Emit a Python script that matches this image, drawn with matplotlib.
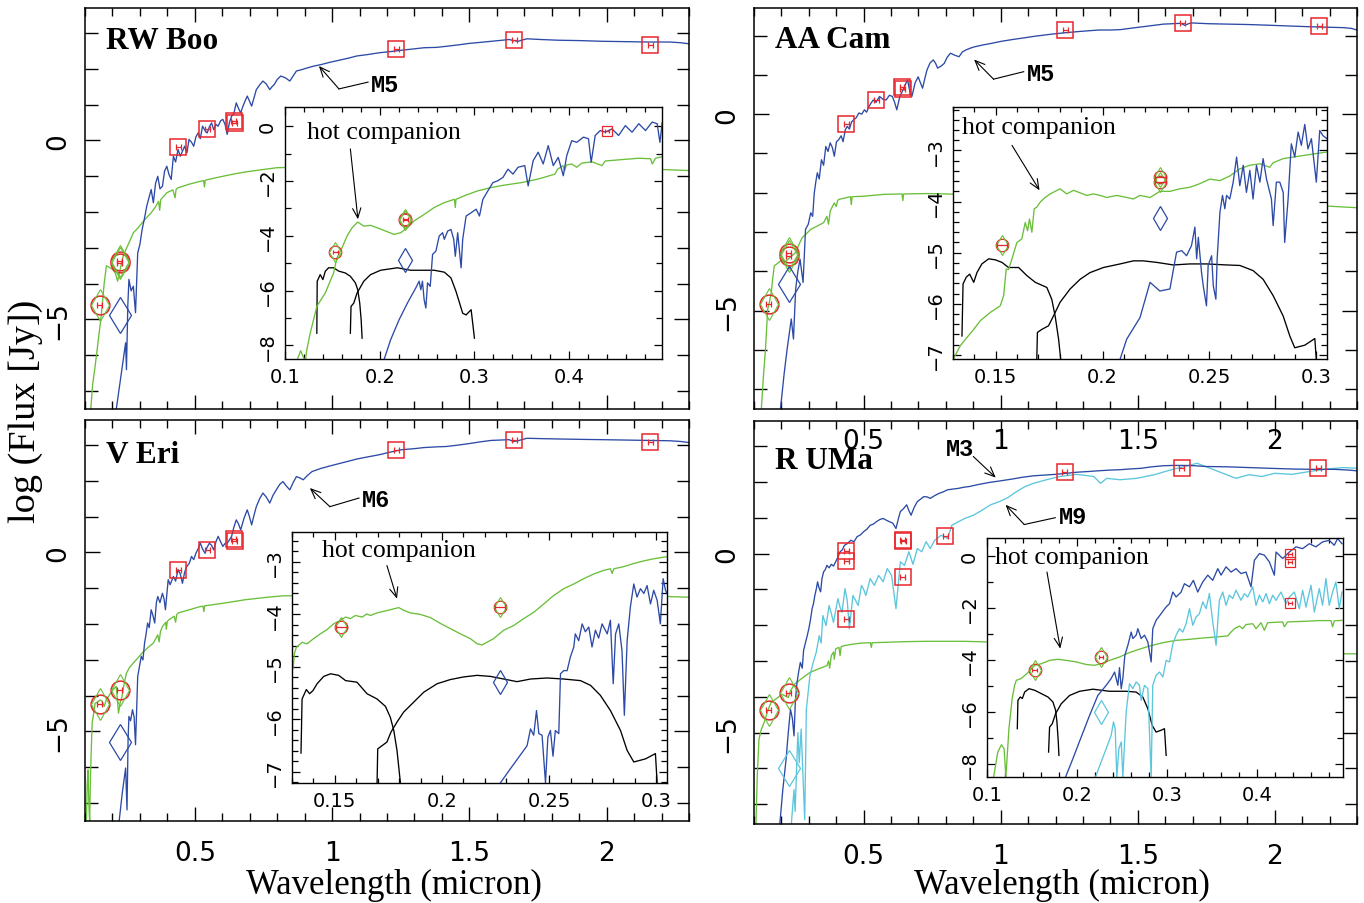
"""Four SED panels (RW Boo, AA Cam, V Eri, R UMa) with UV insets."""

import matplotlib

matplotlib.use("Agg")
import matplotlib.pyplot as plt  # noqa: E402
import numpy as np  # noqa: E402
from matplotlib.ticker import FuncFormatter, MultipleLocator  # noqa: E402

BLUE = "#2c4aa6"
GREEN = "#6abf3a"
CYAN = "#5cc6dc"
RED = "#e8262b"
SERIF = "Liberation Serif"
MONO = "Liberation Mono"

# ---------------------------------------------------------------- RW Boo
RWBOO_M5 = np.array([
    (0.214, -7.5), (0.248, -5.65), (0.251, -6.4), (0.256, -4.6), (0.26, -3.88), (0.268, -4.2),
    (0.276, -4.07), (0.284, -4.81), (0.292, -3.14), (0.300, -2.9), (0.308, -2.49), (0.316, -2.2),
    (0.325, -1.83), (0.333, -1.6), (0.341, -1.37), (0.349, -1.74), (0.357, -1.2), (0.365, -1.0),
    (0.373, -1.35), (0.382, -1.28), (0.39, -0.85), (0.398, -0.72), (0.406, -0.95), (0.414, -1.09),
    (0.422, -0.44), (0.43, -0.6), (0.439, -0.25), (0.447, -0.44), (0.455, -0.3), (0.463, -0.16),
    (0.471, -0.35), (0.479, 0.03), (0.488, -0.05), (0.496, -0.16), (0.504, 0.1), (0.512, 0.21),
    (0.52, 0.05), (0.528, 0.4), (0.537, 0.28), (0.545, 0.21), (0.553, 0.38), (0.561, 0.49),
    (0.569, 0.3), (0.577, 0.45), (0.585, 0.4), (0.594, 0.55), (0.602, 0.59), (0.61, 0.45),
    (0.618, 0.17), (0.626, 0.5), (0.634, 0.68), (0.642, 0.75), (0.651, 1.05), (0.659, 0.9),
    (0.667, 0.77), (0.675, 0.95), (0.683, 1.1), (0.691, 1.24), (0.699, 1.1), (0.707, 0.96),
    (0.716, 1.2), (0.724, 1.42), (0.736, 1.55), (0.748, 1.66), (0.76, 1.58), (0.773, 1.42),
    (0.781, 1.5), (0.789, 1.56), (0.8, 1.7), (0.813, 1.8), (0.83, 1.75), (0.846, 1.66),
    (0.858, 1.8), (0.87, 1.94), (0.89, 1.98), (0.911, 2.03), (0.935, 2.08), (0.96, 2.12),
    (0.99, 2.18), (1.025, 2.24), (1.06, 2.3), (1.09, 2.36), (1.13, 2.4), (1.172, 2.45),
    (1.21, 2.48), (1.253, 2.52), (1.3, 2.56), (1.335, 2.59), (1.38, 2.6), (1.416, 2.63),
    (1.46, 2.67), (1.498, 2.71), (1.54, 2.74), (1.58, 2.77), (1.62, 2.8), (1.645, 2.82),
    (1.66, 2.79), (1.677, 2.77), (1.69, 2.8), (1.71, 2.84), (1.76, 2.82), (1.824, 2.80),
    (1.9, 2.79), (1.986, 2.77), (2.07, 2.76), (2.149, 2.75), (2.23, 2.75), (2.27, 2.73), (2.3, 2.7),
])
RWBOO_HOT = np.array([
    (0.121, -7.5), (0.128, -6.8), (0.137, -6.3), (0.148, -5.6), (0.159, -4.9), (0.165, -4.4),
    (0.17, -3.98), (0.178, -3.5), (0.19, -3.55), (0.2, -3.6), (0.21, -3.7), (0.219, -3.93),
    (0.228, -3.6), (0.24, -3.2), (0.26, -2.86), (0.276, -2.58), (0.292, -2.45), (0.308, -2.3),
    (0.325, -2.15), (0.341, -2.02), (0.357, -1.85), (0.368, -1.7), (0.372, -1.95), (0.376, -1.65),
    (0.398, -1.46), (0.42, -1.38), (0.428, -1.6), (0.432, -1.36), (0.439, -1.32), (0.48, -1.22),
    (0.52, -1.14), (0.532, -1.12), (0.535, -1.3), (0.538, -1.11), (0.56, -1.07), (0.602, -1.0),
    (0.64, -0.94), (0.683, -0.88), (0.74, -0.82), (0.8, -0.76), (1.2, -0.7), (1.8, -0.75),
    (2.2, -0.81), (2.3, -0.84),
])
RWBOO_M5_UV = np.array([
    (0.2044, -8.54), (0.2115, -7.8), (0.2204, -7.07), (0.2292, -6.46), (0.238, -5.91),
    (0.2416, -5.66), (0.2434, -5.97), (0.2451, -5.66), (0.2469, -6.34), (0.2487, -6.64),
    (0.2505, -5.72), (0.2533, -5.85), (0.2558, -4.68), (0.2593, -4.56), (0.2628, -4.01),
    (0.2664, -3.89), (0.2682, -4.13), (0.2717, -3.83), (0.2752, -3.77), (0.2781, -4.13),
    (0.2798, -4.75), (0.2823, -3.89), (0.2859, -5.17), (0.2876, -4.13), (0.2912, -3.28),
    (0.2965, -3.16), (0.3018, -3.03), (0.3053, -3.28), (0.3089, -2.67), (0.3142, -2.36),
    (0.3195, -2.06), (0.3248, -1.99), (0.3301, -1.87), (0.3354, -1.57), (0.3407, -1.75),
    (0.346, -1.5), (0.3531, -1.44), (0.3567, -2.18), (0.362, -1.26), (0.3673, -0.95),
    (0.3726, -1.38), (0.3779, -0.71), (0.3832, -1.44), (0.3885, -1.14), (0.3938, -1.81),
    (0.3974, -1.08), (0.4027, -0.53), (0.408, -0.59), (0.4151, -0.4), (0.4204, -0.46),
    (0.4232, -1.32), (0.4275, -0.34), (0.4328, -0.16), (0.4381, -0.22), (0.4452, -0.1),
    (0.4522, -0.34), (0.4593, 0.02), (0.4664, -0.22), (0.4735, 0.09), (0.4806, -0.16),
    (0.4876, 0.15), (0.4929, 0.09), (0.4958, -0.59), (0.4983, 0.15), (0.5, 0.02),
])
RWBOO_HOT_UV = np.array([
    (0.1126, -8.55), (0.1165, -8.2), (0.1196, -8.45), (0.1215, -8.55), (0.123, -8.17),
    (0.1266, -7.56), (0.1336, -6.58), (0.1425, -6.09), (0.1513, -5.36), (0.1548, -4.81),
    (0.1602, -4.44), (0.1655, -4.01), (0.1708, -3.71), (0.1768, -3.5), (0.1832, -3.65),
    (0.1903, -3.62), (0.1974, -3.71), (0.2062, -3.83), (0.2151, -3.95), (0.2222, -3.89),
    (0.2292, -3.71), (0.2363, -3.46), (0.247, -3.22), (0.2575, -2.97), (0.2682, -2.79),
    (0.2788, -2.67), (0.2798, -2.97), (0.2805, -2.67), (0.2894, -2.54), (0.3035, -2.36),
    (0.3177, -2.24), (0.3319, -2.15), (0.3496, -2.06), (0.3673, -1.93), (0.385, -1.75),
    (0.3878, -1.57), (0.3934, -1.44), (0.3952, -1.62), (0.397, -1.42), (0.4027, -1.38),
    (0.408, -1.5), (0.4133, -1.35), (0.424, -1.3), (0.4346, -1.44), (0.4381, -1.27),
    (0.4558, -1.22), (0.4735, -1.17), (0.4859, -1.19), (0.4877, -1.38), (0.4912, -1.17),
    (0.5, -1.1),
])
RWBOO_FUV = np.array([
    (0.1336, -7.56), (0.134, -5.66), (0.1372, -5.42), (0.14, -5.6), (0.1425, -5.3),
    (0.146, -5.17), (0.1513, -5.17), (0.1566, -5.29), (0.1637, -5.36), (0.169, -5.48),
    (0.1743, -5.72), (0.1768, -5.97), (0.1789, -6.46), (0.1804, -7.07), (0.1814, -7.74),
])
RWBOO_NUV = np.array([
    (0.169, -7.56), (0.1697, -6.58), (0.1726, -6.46), (0.1761, -6.09), (0.1832, -5.66),
    (0.1903, -5.42), (0.2009, -5.26), (0.2186, -5.17), (0.2328, -5.26), (0.2434, -5.26),
    (0.2575, -5.26), (0.2682, -5.33), (0.2752, -5.54), (0.2805, -6.03), (0.2876, -6.83),
    (0.2912, -6.89), (0.2965, -6.7), (0.3, -7.74),
])
RWBOO_SQUARES = np.array([(0.44, -0.17), (0.545, 0.31), (0.642, 0.54), (0.645, 0.5),
                          (1.234, 2.56), (1.663, 2.80), (2.159, 2.68)])
RWBOO_CIRCLES = np.array([(0.153, -4.6), (0.227, -3.38), (0.227, -3.42)])
RWBOO_DIAMONDS = np.array([(0.227, -4.88)])

# ---------------------------------------------------------------- AA Cam
AACAM_M5 = np.array([
    (0.197, -7.47), (0.21, -6.6), (0.221, -5.97), (0.236, -5.21), (0.244, -5.72), (0.252, -4.45),
    (0.26, -4.0), (0.268, -3.69), (0.279, -4.28), (0.288, -2.93), (0.298, -2.8), (0.307, -2.51),
    (0.314, -2.6), (0.32, -2.0), (0.326, -1.7), (0.331, -1.49), (0.338, -1.65), (0.346, -1.16),
    (0.354, -1.3), (0.362, -0.82), (0.37, -0.95), (0.378, -0.73), (0.386, -0.85), (0.393, -1.07),
    (0.401, -0.7), (0.409, -0.65), (0.418, -0.55), (0.425, -0.7), (0.433, -0.4), (0.44, -0.31),
    (0.448, -0.38), (0.456, -0.2), (0.464, -0.14), (0.472, -0.1), (0.483, 0.03), (0.493, 0.0),
    (0.503, 0.11), (0.511, 0.05), (0.519, 0.19), (0.527, 0.28), (0.535, 0.36), (0.545, 0.3),
    (0.558, 0.45), (0.57, 0.38), (0.582, 0.36), (0.594, 0.48), (0.605, 0.45), (0.613, 0.3),
    (0.621, 0.11), (0.632, 0.45), (0.644, 0.62), (0.652, 0.75), (0.66, 0.87), (0.668, 0.6),
    (0.676, 0.45), (0.688, 0.8), (0.699, 0.95), (0.707, 0.8), (0.715, 0.66), (0.723, 0.9),
    (0.731, 1.12), (0.742, 1.3), (0.754, 1.38), (0.762, 1.3), (0.77, 1.17), (0.782, 1.22),
    (0.794, 1.29), (0.805, 1.45), (0.817, 1.55), (0.832, 1.5), (0.848, 1.46), (0.86, 1.58),
    (0.872, 1.63), (0.89, 1.68), (0.903, 1.71), (0.935, 1.76), (0.966, 1.8), (1.0, 1.85),
    (1.045, 1.9), (1.085, 1.94), (1.123, 1.98), (1.18, 2.03), (1.233, 2.07), (1.3, 2.11),
    (1.358, 2.14), (1.4, 2.14), (1.437, 2.15), (1.48, 2.19), (1.515, 2.22), (1.56, 2.26),
    (1.594, 2.29), (1.656, 2.31), (1.672, 2.26), (1.685, 2.3), (1.696, 2.32), (1.76, 2.3),
    (1.829, 2.29), (1.9, 2.28), (1.986, 2.26), (2.06, 2.24), (2.143, 2.22), (2.2, 2.21),
    (2.253, 2.2), (2.28, 2.18), (2.3, 2.14),
])
AACAM_HOT = np.array([
    (0.127, -7.47), (0.135, -6.6), (0.142, -5.97), (0.15, -4.96), (0.157, -4.75), (0.163, -4.54),
    (0.168, -4.2), (0.174, -3.86), (0.185, -3.8), (0.197, -3.73), (0.21, -3.78), (0.222, -3.7),
    (0.237, -3.61), (0.252, -3.52), (0.265, -3.3), (0.276, -3.14), (0.29, -3.05), (0.307, -2.93),
    (0.33, -2.85), (0.354, -2.76), (0.366, -2.6), (0.372, -2.8), (0.378, -2.47), (0.386, -2.35),
    (0.393, -2.26), (0.4, -2.35), (0.405, -2.2), (0.409, -2.17), (0.433, -2.13), (0.452, -2.1),
    (0.455, -2.3), (0.458, -2.1), (0.495, -2.09), (0.574, -2.04), (0.64, -2.03), (0.643, -2.2),
    (0.646, -2.03), (0.731, -2.02), (0.801, -2.03), (1.5, -2.2), (2.195, -2.34), (2.3, -2.38),
])
AACAM_M5_UV = np.array([
    (0.2082, -7.08), (0.2113, -6.69), (0.2175, -6.27), (0.2222, -5.58), (0.2268, -5.75),
    (0.2315, -5.71), (0.2346, -4.99), (0.237, -4.96), (0.2393, -5.06), (0.2416, -4.86),
    (0.2432, -4.5), (0.244, -5.12), (0.2448, -4.7), (0.2463, -5.39), (0.2471, -5.65),
    (0.2486, -6.04), (0.2494, -5.25), (0.251, -5.06), (0.2518, -5.65), (0.253, -5.91),
    (0.2536, -5.12), (0.2549, -4.21), (0.2561, -3.88), (0.2572, -4.14), (0.258, -3.88),
    (0.2595, -3.95), (0.2611, -3.62), (0.2627, -3.13), (0.2642, -3.69), (0.2658, -3.29),
    (0.2673, -3.82), (0.2689, -3.39), (0.2704, -3.95), (0.272, -3.29), (0.2736, -3.62),
    (0.2751, -3.16), (0.2767, -3.56), (0.279, -3.95), (0.2798, -4.47), (0.2813, -3.62),
    (0.2829, -3.62), (0.2845, -3.82), (0.2852, -4.8), (0.2868, -3.95), (0.2883, -2.87),
    (0.2899, -3.13), (0.2915, -2.64), (0.293, -2.9), (0.2946, -2.49), (0.2961, -2.97),
    (0.2977, -2.77), (0.3, -3.62), (0.3016, -2.61), (0.3031, -2.71), (0.305, -2.77),
])
AACAM_HOT_UV = np.array([
    (0.1306, -7.05), (0.1334, -6.82), (0.1365, -6.66), (0.1397, -6.5), (0.1428, -6.33),
    (0.1474, -6.17), (0.1521, -6.04), (0.1537, -5.84), (0.1549, -5.32), (0.156, -5.33),
    (0.1576, -5.12), (0.1599, -4.8), (0.1622, -4.73), (0.1638, -4.41), (0.1649, -4.57),
    (0.1658, -4.34), (0.1669, -4.6), (0.168, -4.14), (0.1692, -4.11), (0.1708, -4.01),
    (0.1731, -3.92), (0.1755, -3.85), (0.1778, -3.8), (0.1801, -3.75), (0.1832, -3.85),
    (0.1864, -3.78), (0.1895, -3.83), (0.1926, -3.88), (0.1957, -3.85), (0.1988, -3.88),
    (0.2019, -3.92), (0.2066, -3.88), (0.2113, -3.92), (0.2144, -3.95), (0.2175, -3.88),
    (0.2222, -3.92), (0.2268, -3.8), (0.2315, -3.8), (0.2362, -3.75), (0.2409, -3.72),
    (0.2455, -3.65), (0.2502, -3.56), (0.2549, -3.59), (0.2595, -3.5), (0.2642, -3.36),
    (0.2689, -3.29), (0.2736, -3.26), (0.2782, -3.33), (0.2798, -3.24), (0.2845, -3.16),
    (0.2891, -3.13), (0.2938, -3.1), (0.2985, -3.07), (0.305, -3.03),
])
AACAM_FUV = np.array([
    (0.1342, -6.63), (0.1347, -5.61), (0.1362, -5.48), (0.1378, -5.42), (0.1397, -5.58),
    (0.1412, -5.39), (0.1435, -5.22), (0.1467, -5.12), (0.1498, -5.14), (0.1529, -5.19),
    (0.156, -5.29), (0.1607, -5.29), (0.1646, -5.45), (0.1685, -5.58), (0.1739, -5.68),
    (0.1762, -5.91), (0.1778, -6.24), (0.1794, -6.69), (0.1804, -7.09),
])
AACAM_NUV = np.array([
    (0.1692, -7.09), (0.1695, -6.56), (0.1716, -6.5), (0.1747, -6.43), (0.177, -6.24),
    (0.1801, -5.97), (0.1848, -5.71), (0.1895, -5.52), (0.1941, -5.39), (0.2004, -5.29),
    (0.2082, -5.22), (0.2144, -5.16), (0.2191, -5.16), (0.2253, -5.19), (0.2331, -5.24),
    (0.2409, -5.22), (0.2486, -5.22), (0.258, -5.24), (0.2642, -5.25), (0.2704, -5.35),
    (0.2751, -5.52), (0.2798, -5.84), (0.2845, -6.24), (0.2876, -6.63), (0.2899, -6.86),
    (0.2946, -6.81), (0.2993, -6.68), (0.3, -7.09),
])
AACAM_SQUARES = np.array([(0.436, -0.245), (0.546, 0.363), (0.64, 0.68), (0.642, 0.64),
                          (1.236, 2.15), (1.664, 2.32), (2.162, 2.24)])
AACAM_CIRCLES = np.array([(0.153, -4.84), (0.227, -3.52), (0.227, -3.62)])
AACAM_DIAMONDS = np.array([(0.227, -4.33)])

# ---------------------------------------------------------------- V Eri
VERI_M6 = np.array([
    (0.224, -7.53), (0.236, -6.7), (0.248, -6.02), (0.253, -7.19), (0.257, -5.2), (0.26, -4.58),
    (0.266, -4.7), (0.273, -4.39), (0.279, -4.6), (0.284, -5.37), (0.292, -3.46), (0.298, -3.2),
    (0.305, -2.9), (0.311, -3.0), (0.317, -2.53), (0.322, -2.3), (0.328, -1.97), (0.334, -2.1),
    (0.341, -1.6), (0.347, -1.75), (0.354, -1.97), (0.36, -1.4), (0.365, -1.23), (0.373, -1.4),
    (0.382, -1.14), (0.388, -1.3), (0.393, -1.6), (0.403, -0.76), (0.41, -0.9), (0.422, -0.67),
    (0.43, -0.8), (0.439, -0.48), (0.447, -0.6), (0.455, -0.86), (0.463, -0.55), (0.471, -0.39),
    (0.48, -0.3), (0.488, -0.11), (0.496, -0.2), (0.504, -0.02), (0.512, 0.1), (0.52, 0.26),
    (0.528, 0.1), (0.537, -0.02), (0.545, 0.15), (0.553, 0.26), (0.561, 0.2), (0.569, 0.07),
    (0.577, 0.3), (0.585, 0.45), (0.594, 0.3), (0.602, 0.17), (0.61, 0.25), (0.618, 0.26),
    (0.626, 0.35), (0.634, 0.45), (0.642, 0.7), (0.651, 0.91), (0.659, 0.8), (0.667, 0.63),
    (0.679, 0.95), (0.691, 1.19), (0.699, 1.0), (0.707, 0.77), (0.716, 1.05), (0.724, 1.28),
    (0.736, 1.5), (0.748, 1.66), (0.76, 1.55), (0.773, 1.38), (0.785, 1.6), (0.797, 1.75),
    (0.809, 1.9), (0.821, 1.98), (0.834, 1.85), (0.846, 1.75), (0.858, 1.95), (0.87, 2.12),
    (0.883, 2.08), (0.895, 2.03), (0.91, 2.15), (0.927, 2.26), (0.96, 2.35), (1.009, 2.45),
    (1.05, 2.53), (1.09, 2.61), (1.13, 2.67), (1.172, 2.73), (1.21, 2.8), (1.253, 2.87),
    (1.3, 2.9), (1.335, 2.93), (1.38, 2.95), (1.416, 2.96), (1.46, 3.0), (1.498, 3.04),
    (1.54, 3.09), (1.58, 3.13), (1.645, 3.15), (1.66, 3.1), (1.677, 3.12), (1.69, 3.15),
    (1.71, 3.19), (1.76, 3.18), (1.824, 3.17), (1.9, 3.16), (1.986, 3.15), (2.07, 3.14),
    (2.149, 3.13), (2.23, 3.12), (2.27, 3.1), (2.3, 3.07),
])
VERI_HOT = np.array([
    (0.105, -7.53), (0.108, -6.5), (0.111, -6.07), (0.114, -7.0), (0.117, -7.53), (0.12, -6.2),
    (0.126, -4.77), (0.137, -4.21), (0.146, -4.18), (0.154, -4.12), (0.162, -4.15), (0.17, -4.3),
    (0.178, -4.1), (0.186, -4.02), (0.2, -3.85), (0.214, -3.74), (0.222, -4.49), (0.228, -4.2),
    (0.235, -4.02), (0.243, -3.65), (0.251, -3.37), (0.263, -3.2), (0.276, -3.09), (0.292, -2.95),
    (0.308, -2.81), (0.33, -2.65), (0.349, -2.53), (0.365, -2.3), (0.37, -2.5), (0.375, -2.2),
    (0.382, -2.07), (0.394, -1.95), (0.396, -2.15), (0.4, -1.92), (0.406, -1.88), (0.425, -1.78),
    (0.43, -1.95), (0.434, -1.74), (0.439, -1.69), (0.48, -1.6), (0.52, -1.51), (0.53, -1.5),
    (0.533, -1.65), (0.536, -1.49), (0.602, -1.42), (0.683, -1.32), (0.765, -1.25),
    (0.822, -1.21), (1.5, -1.2), (2.22, -1.23), (2.3, -1.25),
])
VERI_M6_UV = np.array([
    (0.2272, -7.21), (0.2319, -6.94), (0.2358, -6.72), (0.2397, -6.5), (0.2413, -6.18),
    (0.2428, -6.3), (0.2441, -5.83), (0.2452, -6.27), (0.2467, -6.3), (0.2483, -7.21),
    (0.2494, -6.34), (0.2506, -6.21), (0.2518, -6.7), (0.2529, -6.21), (0.2545, -6.27),
    (0.2553, -5.13), (0.2568, -5.07), (0.2584, -5.07), (0.2599, -4.81), (0.2615, -4.62),
    (0.2622, -4.37), (0.2638, -4.5), (0.2654, -4.18), (0.2669, -4.33), (0.2685, -4.24),
    (0.27, -4.62), (0.2716, -4.3), (0.2731, -4.45), (0.2747, -4.18), (0.2771, -4.37),
    (0.2786, -4.11), (0.2799, -5.32), (0.281, -4.37), (0.2825, -4.18), (0.284, -4.69),
    (0.2851, -5.92), (0.2864, -4.5), (0.2879, -3.86), (0.2895, -3.42), (0.291, -3.67),
    (0.2926, -3.51), (0.2942, -3.6), (0.2957, -3.45), (0.2973, -3.8), (0.2988, -3.54),
    (0.3004, -3.73), (0.3019, -4.18), (0.3032, -3.32), (0.3043, -3.54), (0.305, -3.6),
])
VERI_HOT_UV = np.array([
    (0.1305, -5.03), (0.1311, -4.75), (0.132, -4.63), (0.1347, -4.53), (0.137, -4.56),
    (0.1401, -4.46), (0.1432, -4.37), (0.1463, -4.29), (0.1494, -4.18), (0.1526, -4.11),
    (0.155, -4.05), (0.1572, -4.08), (0.1596, -4.02), (0.1627, -4.05), (0.165, -3.99),
    (0.1666, -4.02), (0.1697, -3.97), (0.1728, -3.94), (0.1759, -3.91), (0.1798, -3.87),
    (0.1821, -3.92), (0.1852, -3.97), (0.1899, -4.0), (0.1946, -4.06), (0.1992, -4.17),
    (0.2039, -4.27), (0.2086, -4.37), (0.2132, -4.46), (0.2164, -4.56), (0.2187, -4.58),
    (0.221, -4.53), (0.2241, -4.46), (0.2288, -4.3), (0.2335, -4.21), (0.2381, -4.08),
    (0.2428, -3.96), (0.2475, -3.8), (0.2521, -3.64), (0.2568, -3.51), (0.2615, -3.42),
    (0.2661, -3.32), (0.2708, -3.23), (0.2755, -3.16), (0.2786, -3.13), (0.2794, -3.22),
    (0.2802, -3.13), (0.2848, -3.09), (0.2895, -3.03), (0.2942, -2.98), (0.2988, -2.94),
    (0.305, -2.9),
])
VERI_FUV = np.array([
    (0.1342, -6.64), (0.1347, -5.61), (0.1367, -5.43), (0.1382, -5.51), (0.1398, -5.45),
    (0.1417, -5.32), (0.1448, -5.18), (0.148, -5.13), (0.1518, -5.16), (0.155, -5.26),
    (0.1603, -5.29), (0.165, -5.51), (0.1697, -5.61), (0.1736, -5.75), (0.1759, -5.96),
    (0.1775, -6.21), (0.179, -6.59), (0.1806, -7.21),
])
VERI_NUV = np.array([
    (0.1697, -7.21), (0.17, -6.56), (0.172, -6.5), (0.1743, -6.43), (0.1762, -6.24),
    (0.179, -6.05), (0.1821, -5.86), (0.1868, -5.67), (0.1915, -5.48), (0.1977, -5.32),
    (0.2039, -5.24), (0.2101, -5.19), (0.2164, -5.16), (0.2226, -5.18), (0.2288, -5.23),
    (0.235, -5.28), (0.2413, -5.23), (0.249, -5.21), (0.2568, -5.23), (0.2646, -5.26),
    (0.2693, -5.35), (0.2739, -5.54), (0.2786, -5.83), (0.2833, -6.21), (0.2864, -6.59),
    (0.2895, -6.81), (0.295, -6.75), (0.2996, -6.65), (0.3004, -7.21),
])
VERI_SQUARES = np.array([(0.439, -0.5), (0.545, 0.07), (0.642, 0.37), (0.645, 0.33),
                         (1.234, 2.87), (1.663, 3.13), (2.159, 3.08)])
VERI_CIRCLES = np.array([(0.153, -4.23), (0.227, -3.85)])
VERI_DIAMONDS = np.array([(0.227, -5.28)])

# ---------------------------------------------------------------- R UMa
RUMA_M3 = np.array([
    (0.194, -7.57), (0.205, -6.6), (0.217, -5.75), (0.225, -5.0), (0.233, -4.35), (0.24, -4.6),
    (0.246, -5.09), (0.251, -4.1), (0.257, -3.6), (0.263, -3.3), (0.269, -3.04), (0.276, -3.2),
    (0.281, -2.7), (0.288, -2.48), (0.294, -2.3), (0.3, -2.1), (0.306, -1.85), (0.312, -1.54),
    (0.317, -1.4), (0.322, -1.17), (0.327, -1.0), (0.332, -0.79), (0.337, -0.95), (0.343, -1.07),
    (0.348, -0.7), (0.354, -0.51), (0.36, -0.45), (0.366, -0.33), (0.374, -0.4), (0.382, -0.3),
    (0.39, -0.35), (0.398, -0.23), (0.406, -0.1), (0.414, 0.05), (0.422, 0.1), (0.43, 0.23),
    (0.441, 0.28), (0.453, 0.37), (0.465, 0.33), (0.476, 0.47), (0.488, 0.52), (0.5, 0.61),
    (0.512, 0.68), (0.524, 0.79), (0.535, 0.82), (0.547, 0.89), (0.559, 0.95), (0.571, 0.98),
    (0.583, 0.93), (0.594, 0.89), (0.606, 0.85), (0.618, 0.7), (0.626, 0.95), (0.634, 1.17),
    (0.645, 1.25), (0.657, 1.36), (0.665, 1.2), (0.673, 1.07), (0.685, 1.3), (0.696, 1.45),
    (0.708, 1.52), (0.72, 1.59), (0.732, 1.58), (0.743, 1.54), (0.76, 1.62), (0.775, 1.68),
    (0.79, 1.72), (0.806, 1.78), (0.826, 1.8), (0.846, 1.82), (0.865, 1.85), (0.885, 1.87),
    (0.92, 1.93), (0.963, 1.99), (1.0, 2.03), (1.042, 2.08), (1.08, 2.13), (1.12, 2.17),
    (1.16, 2.19), (1.199, 2.21), (1.24, 2.24), (1.277, 2.27), (1.32, 2.29), (1.356, 2.31),
    (1.4, 2.33), (1.435, 2.34), (1.47, 2.36), (1.513, 2.38), (1.55, 2.42), (1.592, 2.45),
    (1.63, 2.46), (1.67, 2.46), (1.71, 2.45), (1.749, 2.43), (1.83, 2.42), (1.906, 2.4),
    (1.98, 2.38), (2.063, 2.36), (2.14, 2.35), (2.22, 2.35), (2.27, 2.33), (2.298, 2.31),
])
RUMA_M9 = np.array([
    (0.236, -7.57), (0.246, -6.59), (0.25, -7.2), (0.26, -5.0), (0.265, -5.84), (0.272, -4.9),
    (0.285, -7.43), (0.291, -4.35), (0.304, -3.41), (0.316, -3.04), (0.327, -2.76), (0.338, -2.29),
    (0.345, -2.5), (0.351, -1.73), (0.363, -2.01), (0.374, -1.45), (0.383, -1.7), (0.39, -1.92),
    (0.406, -1.26), (0.414, -1.5), (0.421, -1.64), (0.432, -0.98), (0.44, -1.3), (0.448, -2.1),
    (0.461, -1.17), (0.47, -1.3), (0.48, -1.45), (0.492, -0.89), (0.5, -1.0), (0.508, -1.17),
    (0.524, -0.7), (0.539, -0.89), (0.555, -0.61), (0.571, -0.79), (0.586, -0.42), (0.602, -0.61),
    (0.618, -1.54), (0.634, -0.23), (0.649, -0.33), (0.665, 0.05), (0.68, -0.3), (0.696, 0.14),
    (0.712, 0.05), (0.728, 0.33), (0.743, 0.14), (0.759, 0.37), (0.783, 0.51), (0.806, 0.42),
    (0.822, 0.79), (0.846, 0.89), (0.869, 0.98), (0.901, 1.07), (0.932, 1.21), (0.963, 1.36),
    (0.995, 1.45), (1.026, 1.56), (1.058, 1.73), (1.089, 1.87), (1.12, 1.96), (1.167, 2.06),
    (1.215, 2.15), (1.277, 2.21), (1.34, 2.15), (1.364, 1.96), (1.387, 2.1), (1.435, 2.06),
    (1.497, 2.1), (1.56, 2.2), (1.623, 2.34), (1.67, 2.43), (1.717, 2.52), (1.764, 2.38),
    (1.811, 2.24), (1.858, 2.1), (1.906, 2.2), (1.953, 2.15), (2.0, 2.24), (2.063, 2.21),
    (2.126, 2.29), (2.188, 2.36), (2.251, 2.4), (2.298, 2.38),
])
RUMA_HOT = np.array([
    (0.107, -7.57), (0.112, -6.2), (0.118, -5.2), (0.125, -4.95), (0.139, -4.67), (0.15, -4.39),
    (0.162, -4.16), (0.178, -4.07), (0.19, -4.0), (0.202, -3.93), (0.215, -3.98), (0.225, -4.02),
    (0.233, -3.83), (0.249, -3.64), (0.272, -3.5), (0.304, -3.32), (0.335, -3.22), (0.366, -3.13),
    (0.372, -3.0), (0.376, -3.2), (0.382, -2.85), (0.39, -2.75), (0.393, -2.95), (0.398, -2.66),
    (0.41, -2.62), (0.414, -2.85), (0.418, -2.6), (0.429, -2.57), (0.46, -2.53), (0.492, -2.5),
    (0.525, -2.49), (0.528, -2.62), (0.531, -2.49), (0.571, -2.48), (0.649, -2.46),
    (0.728, -2.45), (0.869, -2.45), (1.5, -2.6), (2.26, -2.8), (2.3, -2.8),
])
RUMA_M3_UV = np.array([
    (0.1874, -8.51), (0.1956, -7.8), (0.2048, -6.97), (0.2141, -6.14), (0.2233, -5.37),
    (0.2326, -4.98), (0.2381, -4.72), (0.2419, -4.47), (0.2456, -4.98), (0.2474, -4.3),
    (0.2493, -5.11), (0.2511, -4.72), (0.2533, -3.83), (0.2567, -3.44), (0.2604, -2.93),
    (0.2622, -3.18), (0.2659, -3.05), (0.2678, -2.8), (0.2715, -3.18), (0.2752, -3.05),
    (0.2789, -3.31), (0.2826, -4.08), (0.2844, -2.8), (0.2881, -2.48), (0.2937, -2.22),
    (0.2993, -1.96), (0.303, -1.84), (0.3067, -1.39), (0.3104, -1.58), (0.3159, -1.39),
    (0.3196, -1.07), (0.3252, -1.19), (0.3296, -0.94), (0.3344, -1.39), (0.34, -1.0),
    (0.3456, -0.74), (0.3511, -0.94), (0.3567, -0.49), (0.3604, -0.74), (0.3659, -0.42),
    (0.3715, -0.62), (0.377, -0.49), (0.3826, -0.68), (0.3881, -0.62), (0.3937, -1.19),
    (0.3974, -0.17), (0.403, 0.09), (0.4085, 0.03), (0.4141, -0.23), (0.4196, -0.74),
    (0.4215, 0.15), (0.4289, -0.1), (0.4363, 0.15), (0.4437, 0.35), (0.4511, 0.28),
    (0.4585, 0.47), (0.4659, 0.35), (0.4733, 0.54), (0.4807, 0.6), (0.4863, 0.41),
    (0.49, 0.67), (0.4948, 0.47),
])
RUMA_M9_UV = np.array([
    (0.2207, -8.51), (0.227, -7.93), (0.2326, -7.42), (0.2381, -6.91), (0.2407, -6.39),
    (0.2426, -6.65), (0.2444, -8.51), (0.2467, -7.42), (0.2493, -7.16), (0.2511, -8.51),
    (0.2548, -6.01), (0.2585, -4.92), (0.2622, -5.11), (0.2659, -4.85), (0.2696, -4.98),
    (0.2715, -5.56), (0.2752, -4.98), (0.2789, -5.11), (0.2826, -8.51), (0.2844, -4.98),
    (0.2881, -4.6), (0.2919, -4.47), (0.2956, -4.66), (0.2993, -4.02), (0.303, -4.08),
    (0.3067, -3.38), (0.3104, -3.05), (0.3141, -2.8), (0.3178, -2.93), (0.3215, -2.61),
    (0.3252, -2.03), (0.3289, -2.67), (0.3326, -2.35), (0.3363, -2.22), (0.34, -1.77),
    (0.3437, -2.03), (0.3474, -1.45), (0.3511, -2.54), (0.3548, -3.44), (0.3585, -1.71),
    (0.3622, -1.39), (0.3659, -1.9), (0.3696, -1.51), (0.3733, -1.64), (0.377, -1.32),
    (0.3826, -1.71), (0.3863, -1.45), (0.39, -1.58), (0.3956, -1.19), (0.3993, -1.9),
    (0.403, -1.51), (0.4067, -1.77), (0.4104, -1.45), (0.4141, -1.84), (0.4178, -1.51),
    (0.4215, -1.71), (0.427, -1.39), (0.4326, -1.84), (0.4363, -1.58), (0.4419, -1.39),
    (0.4474, -2.03), (0.4511, -1.32), (0.4548, -1.97), (0.4604, -1.13), (0.4641, -2.16),
    (0.4696, -1.26), (0.4733, -1.9), (0.477, -0.87), (0.4807, -1.9), (0.4844, -1.39),
    (0.4881, -1.0), (0.4919, -2.03), (0.4948, -1.39),
])
RUMA_HOT_UV = np.array([
    (0.1074, -8.51), (0.112, -7.55), (0.116, -7.27), (0.119, -7.42), (0.121, -8.51),
    (0.1244, -6.65), (0.128, -5.49), (0.1307, -4.98), (0.1326, -4.79), (0.138, -4.72),
    (0.1456, -4.49), (0.153, -4.21), (0.1604, -4.15), (0.1696, -4.02), (0.179, -3.98),
    (0.1881, -4.02), (0.1993, -4.08), (0.2104, -4.18), (0.2196, -4.21), (0.227, -4.15),
    (0.2363, -4.02), (0.2474, -3.89), (0.2585, -3.72), (0.2696, -3.59), (0.2807, -3.47),
    (0.2956, -3.34), (0.3104, -3.25), (0.3252, -3.21), (0.34, -3.16), (0.3548, -3.12),
    (0.3678, -3.08), (0.3715, -2.93), (0.3752, -2.8), (0.3807, -2.7), (0.3844, -2.8),
    (0.3881, -2.64), (0.3956, -2.61), (0.3993, -2.8), (0.4048, -2.57), (0.4085, -2.86),
    (0.4122, -2.57), (0.4289, -2.54), (0.4307, -2.73), (0.4344, -2.54), (0.4511, -2.52),
    (0.4696, -2.49), (0.4826, -2.49), (0.4844, -2.73), (0.4863, -2.5), (0.4948, -2.48),
])
RUMA_FUV = np.array([
    (0.1337, -6.65), (0.1344, -5.56), (0.137, -5.43), (0.1393, -5.49), (0.1419, -5.24),
    (0.1467, -5.11), (0.153, -5.17), (0.1604, -5.3), (0.1678, -5.43), (0.1733, -5.62),
    (0.1763, -5.94), (0.1778, -6.39), (0.1793, -7.16), (0.18, -7.68),
])
RUMA_NUV = np.array([
    (0.1685, -7.55), (0.1696, -6.59), (0.1726, -6.46), (0.1763, -6.07), (0.1826, -5.69),
    (0.1919, -5.37), (0.203, -5.21), (0.2178, -5.13), (0.2363, -5.21), (0.2548, -5.21),
    (0.2659, -5.24), (0.2733, -5.43), (0.2789, -5.88), (0.2837, -6.52), (0.2881, -6.78),
    (0.2937, -6.71), (0.2974, -6.65), (0.2993, -7.68),
])
RUMA_SQUARES = np.array([(0.437, 0.08), (0.437, -0.22), (0.437, -1.82), (0.642, 0.39),
                         (0.645, 0.35), (0.642, -0.66), (0.797, 0.5), (1.234, 2.28),
                         (1.66, 2.39), (2.158, 2.38)])
RUMA_CIRCLES = np.array([(0.153, -4.38), (0.227, -3.9)])
RUMA_DIAMONDS = np.array([(0.227, -6.0)])

W, H = 1364, 904


def box(left, top, right, bottom):
    return [left / W, 1 - bottom / H, (right - left) / W, (bottom - top) / H]


def fmt(v, _pos):
    return f"{v:g}".replace("-", "\u2212")


def style(ax, xmaj, xmin, ymaj, ymin, size, xlen, ylen, xpad, ypad, lw):
    ax.xaxis.set_major_locator(MultipleLocator(xmaj))
    ax.xaxis.set_minor_locator(MultipleLocator(xmin))
    ax.yaxis.set_major_locator(MultipleLocator(ymaj))
    ax.yaxis.set_minor_locator(MultipleLocator(ymin))
    ax.xaxis.set_major_formatter(FuncFormatter(fmt))
    ax.yaxis.set_major_formatter(FuncFormatter(fmt))
    ax.tick_params(which="both", direction="in", top=True, right=True, width=lw * 0.9)
    ax.tick_params(which="major", labelsize=size)
    ax.tick_params(axis="x", which="major", length=xlen[0], pad=xpad)
    ax.tick_params(axis="x", which="minor", length=xlen[1])
    ax.tick_params(axis="y", which="major", length=ylen[0], pad=ypad)
    ax.tick_params(axis="y", which="minor", length=ylen[1])
    for s in ax.spines.values():
        s.set_linewidth(lw)
    for t in ax.get_yticklabels():
        t.set_rotation(90)
        t.set_va("center")


def photometry(ax, squares, circles, diamonds, dcolor, inset):
    if inset:
        ms_sq, ms_c, ms_g, ms_d, xe, cs, mew = 7, 9, 10, 12, 0.0025, 1.5, 0.9
    else:
        ms_sq, ms_c, ms_g, ms_d, xe, cs, mew = 11.5, 13.5, 16, 18, 0.009, 2, 1.1
    sq = squares[squares[:, 0] < ax.get_xlim()[1]]
    ax.plot(sq[:, 0], sq[:, 1], "s", mfc="none", mec=RED, ms=ms_sq, mew=mew, zorder=5)
    ax.errorbar(sq[:, 0], sq[:, 1], xerr=xe, fmt="none", ecolor=RED, elinewidth=0.9,
                capsize=cs, capthick=0.9, zorder=5)
    ax.plot(circles[:, 0], circles[:, 1], "o", mfc="none", mec=RED, ms=ms_c, mew=mew, zorder=5)
    ax.plot(circles[:, 0], circles[:, 1], "d", mfc="none", mec=GREEN, ms=ms_g, mew=0.8, zorder=5)
    ax.errorbar(circles[:, 0], circles[:, 1], xerr=xe, fmt="none", ecolor=RED, elinewidth=0.9,
                capsize=cs, capthick=0.9, zorder=5)
    ax.plot(diamonds[:, 0], diamonds[:, 1], "d", mfc="none", mec=dcolor, ms=ms_d, mew=0.9,
            zorder=5)


ARROW = dict(arrowstyle="->,head_length=0.7,head_width=0.3", color="k", lw=0.8,
             shrinkA=0, shrinkB=0)


def kinked(ax, label, text_x, text_y, start, knee, tip):
    ax.text(text_x, text_y, label, fontfamily=MONO, fontweight="bold", fontsize=17,
            ha="left", va="center")
    ax.plot([start[0], knee[0]], [start[1], knee[1]], color="k", lw=0.8)
    ax.annotate("", xy=tip, xytext=knee, arrowprops=ARROW)


def companion(ax, x, y, start, tip):
    ax.text(x, y, "hot companion", fontfamily=SERIF, fontsize=18.5, ha="left", va="center")
    ax.annotate("", xy=tip, xytext=start, arrowprops=ARROW)


def main_panel(fig, rect, ylim, name, name_y, cool, hot, phot, dcolor, xlabels):
    ax = fig.add_axes(rect)
    ax.set_facecolor("none")
    ax.plot(hot[:, 0], hot[:, 1], color=GREEN, lw=0.95)
    for spec, col in cool:
        ax.plot(spec[:, 0], spec[:, 1], color=col, lw=0.95)
    ax.set_xlim(0.1, 2.3)
    ax.set_ylim(*ylim)
    style(ax, 0.5, 0.1, 5, 1, 19, (10, 5.5), (11, 9), 14, 10, 1.1)
    ax.tick_params(axis="x", labelbottom=xlabels)
    photometry(ax, *phot, dcolor, inset=False)
    ax.text(0.175, name_y, name, fontfamily=SERIF, fontweight="bold", fontsize=22.5,
            ha="left", va="center")
    return ax


def inset_panel(fig, rect, xlim, ylim, xt, yt, cool, hot, fuv, nuv, phot, dcolor):
    ax = fig.add_axes(rect)
    ax.set_facecolor("white")
    ax.plot(fuv[:, 0], fuv[:, 1], color="k", lw=0.95)
    ax.plot(nuv[:, 0], nuv[:, 1], color="k", lw=0.95)
    ax.plot(hot[:, 0], hot[:, 1], color=GREEN, lw=0.95)
    for spec, col in cool:
        ax.plot(spec[:, 0], spec[:, 1], color=col, lw=0.95)
    ax.set_xlim(*xlim)
    ax.set_ylim(*ylim)
    style(ax, xt[0], xt[1], yt[0], yt[1], 14, (6, 3.5), (6, 4), 6, 6, 1.0)
    photometry(ax, *phot, dcolor, inset=True)
    return ax


fig = plt.figure(figsize=(W / 100, H / 100), dpi=100)

# RW Boo
ax = main_panel(fig, box(85, 9, 689, 410), (-7.5, 3.7), "RW Boo", 2.8,
                [(RWBOO_M5, BLUE)], RWBOO_HOT,
                (RWBOO_SQUARES, RWBOO_CIRCLES, RWBOO_DIAMONDS), BLUE, False)
kinked(ax, "M5", 1.142, 1.56, (1.131, 1.63), (1.025, 1.44), (0.952, 2.08))
ins = inset_panel(fig, box(285, 108, 662, 360), (0.1, 0.498), (-8.5, 0.7), (0.1, 0.02), (2, 1),
                  [(RWBOO_M5_UV, BLUE)], RWBOO_HOT_UV, RWBOO_FUV, RWBOO_NUV,
                  (RWBOO_SQUARES, RWBOO_CIRCLES, RWBOO_DIAMONDS), BLUE)
companion(ins, 0.123, -0.22, (0.169, -0.83), (0.177, -3.4))

# AA Cam
ax = main_panel(fig, box(754, 9, 1357, 410), (-7.5, 2.7), "AA Cam", 1.9,
                [(AACAM_M5, BLUE)], AACAM_HOT,
                (AACAM_SQUARES, AACAM_CIRCLES, AACAM_DIAMONDS), BLUE, True)
kinked(ax, "M5", 1.096, 1.04, (1.084, 1.08), (0.974, 0.89), (0.903, 1.39))
ins = inset_panel(fig, box(953, 108, 1327, 360), (0.130, 0.305), (-7.08, -2.15), (0.05, 0.01),
                  (1, 0.2), [(AACAM_M5_UV, BLUE)], AACAM_HOT_UV, AACAM_FUV, AACAM_NUV,
                  (AACAM_SQUARES, AACAM_CIRCLES, AACAM_DIAMONDS), BLUE)
companion(ins, 0.1342, -2.54, (0.1576, -2.9), (0.1705, -3.78))

# V Eri
ax = main_panel(fig, box(85, 421, 689, 822), (-7.5, 3.7), "V Eri", 2.73,
                [(VERI_M6, BLUE)], VERI_HOT,
                (VERI_SQUARES, VERI_CIRCLES, VERI_DIAMONDS), BLUE, True)
kinked(ax, "M6", 1.11, 1.47, (1.098, 1.52), (0.992, 1.28), (0.919, 1.8))
ins = inset_panel(fig, box(292, 533, 667, 784), (0.130, 0.305), (-7.21, -2.43), (0.05, 0.01),
                  (1, 0.2), [(VERI_M6_UV, BLUE)], VERI_HOT_UV, VERI_FUV, VERI_NUV,
                  (VERI_SQUARES, VERI_CIRCLES, VERI_DIAMONDS), BLUE)
companion(ins, 0.144, -2.77, (0.1743, -3.07), (0.179, -3.7))

# R UMa
ax = main_panel(fig, box(754, 422, 1357, 825), (-7.55, 3.7), "R UMa", 2.59,
                [(RUMA_M9, CYAN), (RUMA_M3, BLUE)], RUMA_HOT,
                (RUMA_SQUARES, RUMA_CIRCLES, RUMA_DIAMONDS), CYAN, True)
ax.text(0.80, 2.92, "M3", fontfamily=MONO, fontweight="bold", fontsize=17, ha="left",
        va="center")
ax.annotate("", xy=(0.982, 2.12), xytext=(0.9, 2.71), arrowprops=ARROW)
kinked(ax, "M9", 1.211, 1.03, (1.199, 1.0), (1.086, 0.81), (1.018, 1.36))
ins = inset_panel(fig, box(987, 539, 1343, 778), (0.1, 0.496), (-8.51, 0.69), (0.1, 0.02),
                  (2, 1), [(RUMA_M9_UV, CYAN), (RUMA_M3_UV, BLUE)], RUMA_HOT_UV, RUMA_FUV,
                  RUMA_NUV, (RUMA_SQUARES, RUMA_CIRCLES, RUMA_DIAMONDS), CYAN)
companion(ins, 0.1085, -0.04, (0.1667, -0.62), (0.1815, -3.57))

fig.text(0.0185, 0.545, "log (Flux [Jy])", rotation=90, fontfamily=SERIF, fontsize=27.5,
         ha="center", va="center")
fig.text(0.289, 0.02, "Wavelength (micron)", fontfamily=SERIF, fontsize=25,
         ha="center", va="center")
fig.text(0.7786, 0.02, "Wavelength (micron)", fontfamily=SERIF, fontsize=25,
         ha="center", va="center")

fig.savefig("out.png", dpi=100)
